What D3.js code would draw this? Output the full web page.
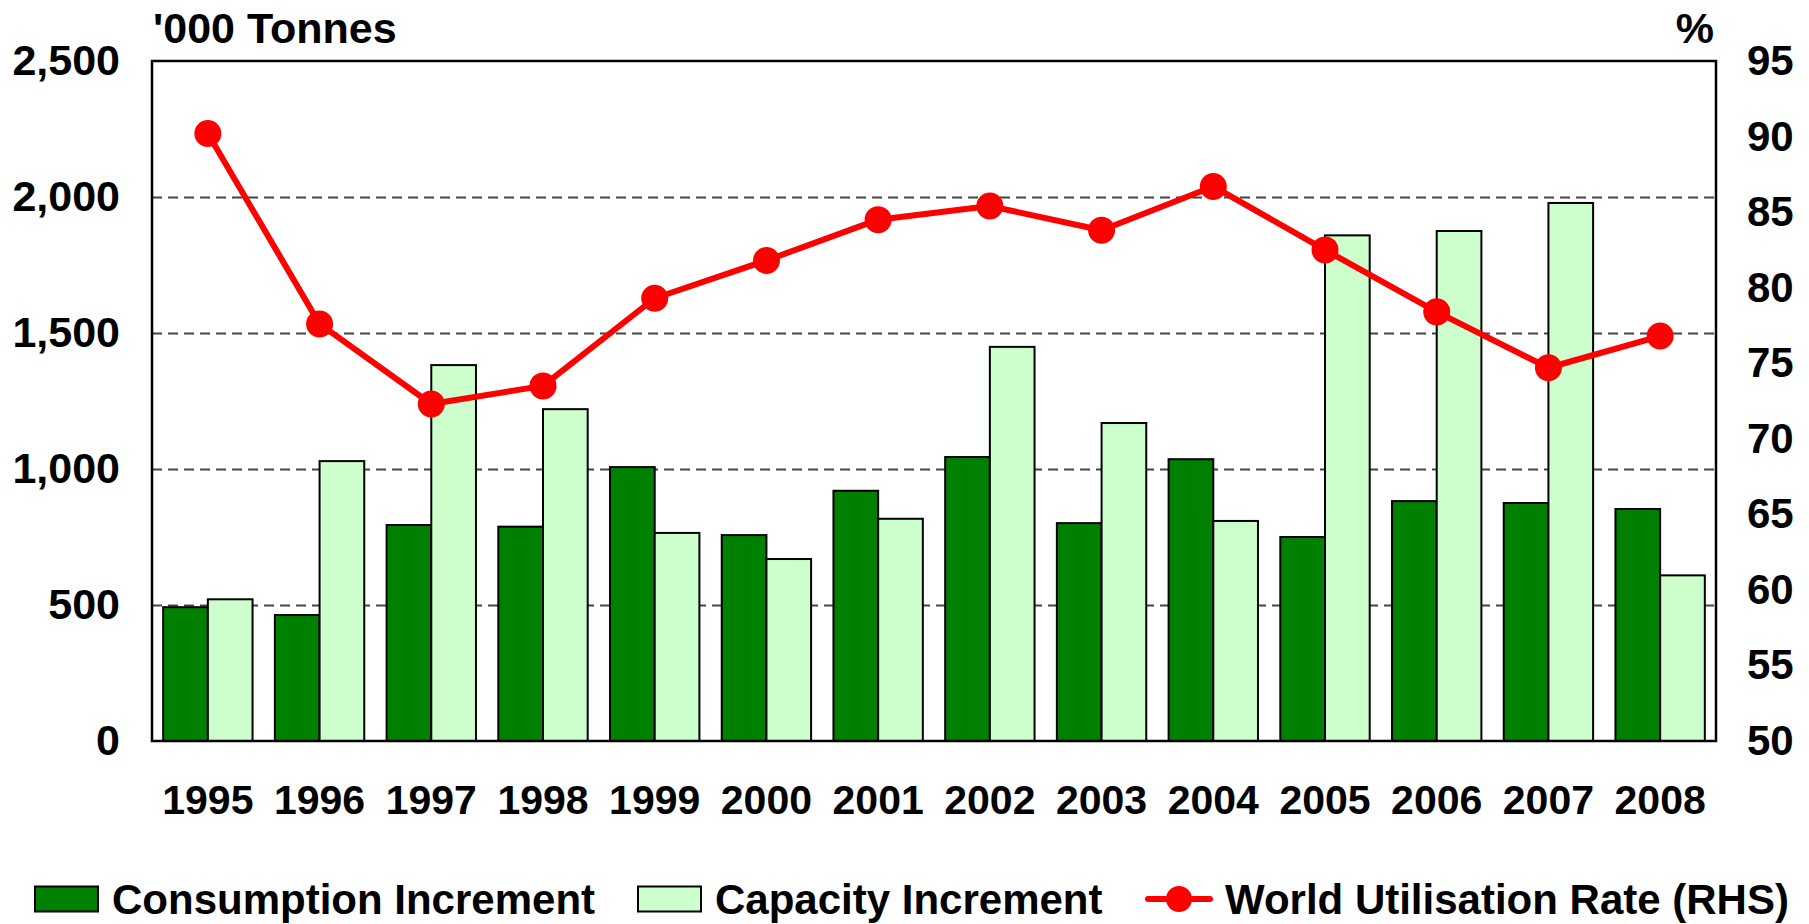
<!DOCTYPE html>
<html>
<head>
<meta charset="utf-8">
<script src="https://cdn.jsdelivr.net/npm/d3@7"></script>
<style>
  body { margin: 0; background: #fff; }
  svg { display: block; font-family: "Liberation Sans", Arial, sans-serif; font-weight: bold; }
</style>
</head>
<body>
<div id="chart"></div>
<script>
const YEARS = ["1995", "1996", "1997", "1998", "1999", "2000", "2001", "2002", "2003", "2004", "2005", "2006", "2007", "2008"];
const CONSUMPTION = [492, 463, 794, 788, 1007, 757, 920, 1044, 801, 1036, 750, 882, 875, 853];
const CAPACITY = [521, 1029, 1382, 1220, 765, 669, 817, 1449, 1169, 809, 1859, 1875, 1978, 609];
const UTILISATION = [90.2, 77.6, 72.3, 73.5, 79.3, 81.8, 84.5, 85.4, 83.8, 86.7, 82.5, 78.4, 74.7, 76.8];
const LEFT_TICKS = [0, 500, 1000, 1500, 2000, 2500];
const RIGHT_TICKS = [50, 55, 60, 65, 70, 75, 80, 85, 90, 95];
const GRID_TICKS = [500, 1000, 1500, 2000];
const SERIES_NAMES = ["Consumption Increment", "Capacity Increment", "World Utilisation Rate (RHS)"];

const W = 1809, H = 924;
const margin = { top: 61, right: 93, bottom: 183, left: 152 };
const width = W - margin.left - margin.right;
const height = H - margin.top - margin.bottom;

const svg = d3.select("#chart").append("svg").attr("width", W).attr("height", H);
const g = svg.append("g").attr("transform", `translate(${margin.left},${margin.top})`);

const x = d3.scaleBand().domain(YEARS).range([0, width]).paddingInner(0.2).paddingOuter(0.1);
const xSub = d3.scaleBand().domain(["cons", "cap"]).range([0, x.bandwidth()]);
const yL = d3.scaleLinear().domain([0, 2500]).range([height, 0]);
const yR = d3.scaleLinear().domain([50, 95]).range([height, 0]);

// dashed gridlines
g.append("g")
  .call(d3.axisLeft(yL).tickValues(GRID_TICKS).tickSize(-width).tickFormat(""))
  .call((a) => a.select(".domain").remove())
  .selectAll("line")
  .attr("stroke", "#444")
  .attr("stroke-width", 1.8)
  .attr("stroke-dasharray", "10,6");

// bars
const groups = g.selectAll(".yr").data(YEARS).enter().append("g")
  .attr("transform", (d) => `translate(${x(d)},0)`);

groups.append("rect")
  .attr("x", xSub("cons"))
  .attr("width", xSub.bandwidth())
  .attr("y", (d, i) => yL(CONSUMPTION[i]))
  .attr("height", (d, i) => height - yL(CONSUMPTION[i]))
  .attr("fill", "#008000")
  .attr("stroke", "#000")
  .attr("stroke-width", 2);

groups.append("rect")
  .attr("x", xSub("cap"))
  .attr("width", xSub.bandwidth())
  .attr("y", (d, i) => yL(CAPACITY[i]))
  .attr("height", (d, i) => height - yL(CAPACITY[i]))
  .attr("fill", "#ccffcc")
  .attr("stroke", "#000")
  .attr("stroke-width", 2);

// frame
g.append("rect")
  .attr("width", width).attr("height", height)
  .attr("fill", "none").attr("stroke", "#000").attr("stroke-width", 2.5);

// utilisation line
const cx = (d) => x(d) + x.bandwidth() / 2;
const line = d3.line().x((d) => cx(d)).y((d, i) => yR(UTILISATION[i]));
g.append("path")
  .datum(YEARS)
  .attr("d", line)
  .attr("fill", "none")
  .attr("stroke", "#ff0000")
  .attr("stroke-width", 6)
  .attr("stroke-linejoin", "round");

g.selectAll(".dot").data(YEARS).enter().append("circle")
  .attr("cx", (d) => cx(d))
  .attr("cy", (d, i) => yR(UTILISATION[i]))
  .attr("r", 13.5)
  .attr("fill", "#ff0000");

// axes
const styleAxis = (size) => (a) => {
  a.select(".domain").remove();
  a.selectAll("line").remove();
  a.selectAll("text").attr("font-size", size).attr("font-weight", "bold").attr("fill", "#000")
    .attr("font-family", "'Liberation Sans', Arial, sans-serif");
};

g.append("g")
  .call(d3.axisLeft(yL).tickValues(LEFT_TICKS).tickSize(0).tickPadding(32).tickFormat(d3.format(",")))
  .call(styleAxis(43));

g.append("g")
  .attr("transform", `translate(${width},0)`)
  .call(d3.axisRight(yR).tickValues(RIGHT_TICKS).tickSize(0).tickPadding(31))
  .call(styleAxis(42));

g.append("g")
  .attr("transform", `translate(0,${height})`)
  .call(d3.axisBottom(x).tickSize(0).tickPadding(44))
  .call(styleAxis(41));

// unit labels
g.append("text").attr("x", 1).attr("y", -18).attr("font-size", 43).text("'000 Tonnes");
g.append("text").attr("x", width - 2).attr("y", -18).attr("font-size", 43)
  .attr("text-anchor", "end").text("%");

// legend
const leg = svg.append("g").attr("font-size", 42);
const legY = 899;
leg.append("rect").attr("x", 35).attr("y", legY - 12.5).attr("width", 63).attr("height", 25)
  .attr("fill", "#008000").attr("stroke", "#000").attr("stroke-width", 2);
leg.append("text").attr("x", 112).attr("y", legY + 15).text(SERIES_NAMES[0]);

leg.append("rect").attr("x", 638).attr("y", legY - 12.5).attr("width", 63).attr("height", 25)
  .attr("fill", "#ccffcc").attr("stroke", "#000").attr("stroke-width", 2);
leg.append("text").attr("x", 715).attr("y", legY + 15).text(SERIES_NAMES[1]);

leg.append("line").attr("x1", 1148).attr("x2", 1210).attr("y1", legY).attr("y2", legY)
  .attr("stroke", "#ff0000").attr("stroke-width", 6).attr("stroke-linecap", "round");
leg.append("circle").attr("cx", 1179).attr("cy", legY).attr("r", 13).attr("fill", "#ff0000");
leg.append("text").attr("x", 1225).attr("y", legY + 15).text(SERIES_NAMES[2]);
</script>
</body>
</html>
